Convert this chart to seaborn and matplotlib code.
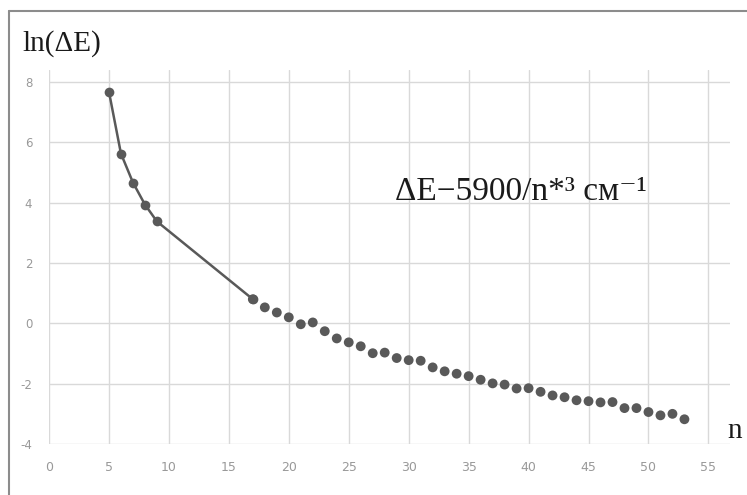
import matplotlib
matplotlib.use("Agg")
import matplotlib.pyplot as plt
import seaborn as sns
import pandas as pd
from matplotlib.lines import Line2D

# data
n_line = [5, 6, 7, 8, 9, 17]
y_line = [7.68, 5.63, 4.67, 3.94, 3.38, 0.80]
n_pts = list(range(17, 54))
y_pts = [0.80, 0.53, 0.36, 0.20, -0.03, 0.03, -0.26, -0.50, -0.63, -0.76,
         -0.99, -0.97, -1.15, -1.22, -1.24, -1.46, -1.59, -1.67, -1.75, -1.87,
         -1.99, -2.03, -2.16, -2.15, -2.27, -2.39, -2.45, -2.55, -2.58, -2.62,
         -2.61, -2.81, -2.81, -2.94, -3.05, -3.00, -3.18]
x_ticks = list(range(0, 56, 5))
y_ticks = list(range(-4, 9, 2))

sns.set_style("white")
plt.rcParams['font.family'] = ['DejaVu Sans']
plt.rcParams['axes.unicode_minus'] = False

W, H = 747, 495
fig = plt.figure(figsize=(W / 100, H / 100), dpi=100)
ax = fig.add_axes([49 / W, 1 - 444 / H, (730 - 49) / W, (444 - 70) / H])

df_line = pd.DataFrame({"n": n_line, "y": y_line})
df_pts = pd.DataFrame({"n": n_pts, "y": y_pts})
col = "#595959"
sns.lineplot(data=df_line, x="n", y="y", ax=ax, color=col, lw=1.8,
             marker="o", markersize=7, markeredgewidth=0, zorder=3)
sns.scatterplot(data=df_pts, x="n", y="y", ax=ax, color=col, s=50,
                edgecolor="none", zorder=3)

ax.set_xlim(0, 56.8)
ax.set_ylim(-4, 8.4)
ax.set_xticks(x_ticks)
ax.set_yticks(y_ticks)
ax.set_xlabel("")
ax.set_ylabel("")
ax.grid(True, color="#d9d9d9", lw=1)
ax.set_axisbelow(True)
for s in ax.spines.values():
    s.set_visible(False)
ax.tick_params(axis="y", length=4, color="#d9d9d9", labelsize=8.5,
               labelcolor="#999999", pad=8)
ax.tick_params(axis="x", length=0, labelsize=9, labelcolor="#999999", pad=12)

serif = ["Liberation Serif", "DejaVu Serif"]
fig.text(22 / W, 1 - 44 / H, "ln(ΔE)", family=serif, fontsize=21,
         va="center", ha="left", color="#1a1a1a")
fig.text(727 / W, 1 - 431 / H, "n", family=serif, fontsize=21,
         va="center", ha="left", color="#1a1a1a")
fig.text(395 / W, 1 - 192 / H, "ΔE−5900/n*³ см⁻¹", family=serif,
         fontsize=24, va="center", ha="left", color="#1a1a1a")

# frame
fc = "#8c8c8c"
fig.add_artist(Line2D([9 / W, 9 / W], [0, 1 - 11 / H], transform=fig.transFigure,
                      color=fc, lw=1.5))
fig.add_artist(Line2D([9 / W, 1], [1 - 11 / H, 1 - 11 / H], transform=fig.transFigure,
                      color=fc, lw=1.5))

fig.savefig("out.png", dpi=100)
